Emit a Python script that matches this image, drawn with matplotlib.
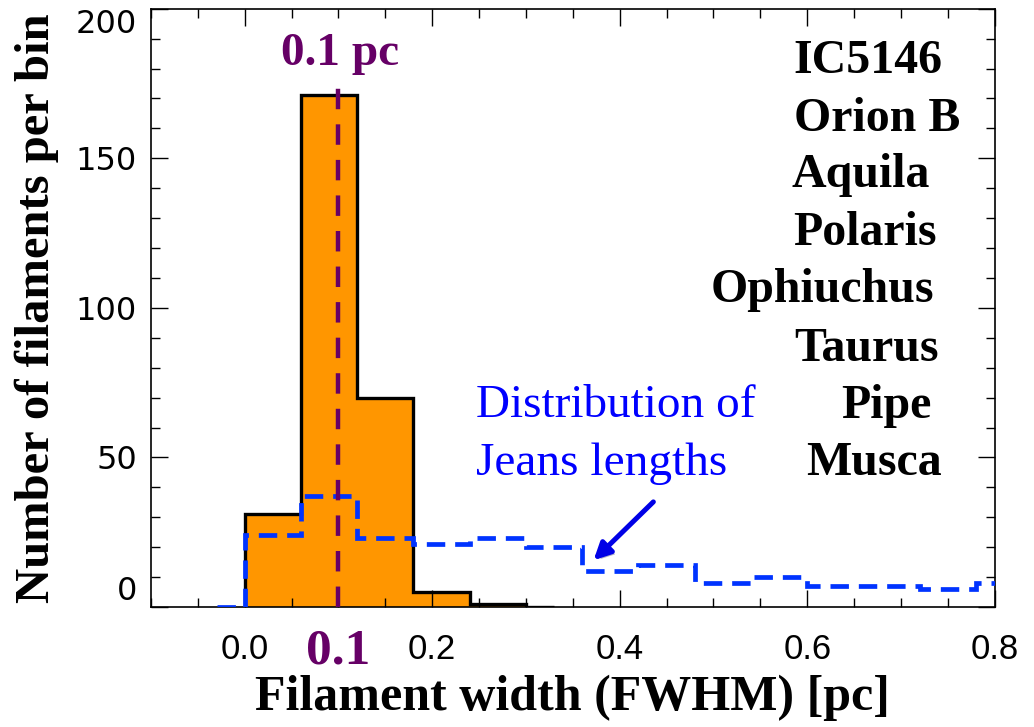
import matplotlib
matplotlib.use('Agg')
import matplotlib.pyplot as plt
from matplotlib.ticker import MultipleLocator
from matplotlib.transforms import blended_transform_factory
import matplotlib.patheffects as pe

# ── Data ──────────────────────────────────────────────────────────────────────
WIDTH_EDGES  = [0.0, 0.06, 0.12, 0.18, 0.24, 0.30, 0.33]
WIDTH_COUNTS = [31, 171, 70, 5, 1, 0]

JEANS_EDGES  = [-0.03, 0.0, 0.06, 0.12, 0.18, 0.24, 0.30, 0.36, 0.42,
                0.48, 0.54, 0.60, 0.66, 0.72, 0.78, 0.80]
JEANS_COUNTS = [0, 24, 37, 23, 21, 23, 20, 12, 14, 8, 10, 7, 7, 6, 8]

FIELDS = ['IC5146', 'Orion B', 'Aquila', 'Polaris',
          'Ophiuchus', 'Taurus', 'Pipe', 'Musca']
# left edge (x) and baseline (y) of each field name, data coords
FIELD_POS = [(0.585, 178.6), (0.586, 159.2), (0.583, 140.5), (0.585, 121.1),
             (0.497, 102.0), (0.586, 82.3), (0.636, 63.2), (0.599, 44.1)]

X_TICKS = [0.0, 0.2, 0.4, 0.6, 0.8]
Y_TICKS = [0, 50, 100, 150, 200]
MARK_W  = 0.1

ORANGE = '#ff9600'
BLUE   = '#0033ff'
PURPLE = '#660066'
SERIF  = 'Liberation Serif'

fig = plt.figure(figsize=(10.34, 7.27), dpi=100)
ax = fig.add_axes([0.146, 0.165, 0.816, 0.823])

# histogram of filament widths
ax.stairs(WIDTH_COUNTS, WIDTH_EDGES, baseline=0, fill=True,
          color=ORANGE, zorder=1)
ax.stairs(WIDTH_COUNTS, WIDTH_EDGES, baseline=0, color='black',
          linewidth=2.4, zorder=2)

# Jeans length distribution
ax.stairs(JEANS_COUNTS, JEANS_EDGES, baseline=None, color=BLUE,
          linewidth=3.4, linestyle=(0, (3.9, 2.1)), zorder=3)

# 0.1 pc marker
ax.plot([MARK_W, MARK_W], [0, 177], color=PURPLE, linewidth=3.2,
        linestyle=(0, (4.6, 3.4)), zorder=4)
ax.text(MARK_W + 0.002, 181.3, '0.1 pc', color=PURPLE, family=SERIF,
        fontweight='bold', fontsize=34, ha='center', va='baseline')

for name, (x, y) in zip(FIELDS, FIELD_POS):
    ax.text(x, y, name, family=SERIF, fontweight='bold', fontsize=34.5,
            ha='left', va='baseline')

ax.text(0.247, 63.5, 'Distribution of', color='blue', family=SERIF,
        fontsize=34, ha='left', va='baseline')
ax.text(0.247, 44.1, 'Jeans lengths', color='blue', family=SERIF,
        fontsize=34, ha='left', va='baseline')
ax.annotate('', xy=(0.370, 15.0), xytext=(0.438, 35.8),
            arrowprops=dict(arrowstyle='-|>,head_length=1.0,head_width=0.5',
                            color='#0000e6', linewidth=3.6,
                            path_effects=[pe.SimplePatchShadow(offset=(2, -2), alpha=0.3),
                                          pe.Normal()]))

# axes
ax.set_xlim(-0.1, 0.8)
ax.set_ylim(0, 200)
ax.set_xticks(X_TICKS)
ax.set_xticklabels([f'{v:.1f}' for v in X_TICKS], family='Liberation Sans',
                   fontsize=25)
ax.xaxis.set_minor_locator(MultipleLocator(0.05))
ax.set_yticks(Y_TICKS)
ax.set_yticklabels([str(v) for v in Y_TICKS], family='DejaVu Sans',
                   fontsize=23)
ax.yaxis.set_minor_locator(MultipleLocator(10))
ylabels = ax.get_yticklabels()
ylabels[0].set_va('bottom')
ylabels[-1].set_va('top')

ax.tick_params(which='both', direction='in', top=True, right=True, width=1.0)
ax.tick_params(which='major', length=12)
ax.tick_params(which='minor', length=6.5)
ax.tick_params(axis='x', which='major', pad=19)
ax.tick_params(axis='y', which='major', pad=10)
for s in ax.spines.values():
    s.set_linewidth(1.2)

trans = blended_transform_factory(ax.transData, ax.transAxes)
ax.text(MARK_W, -0.094, '0.1', transform=trans, color=PURPLE, family=SERIF,
        fontweight='bold', fontsize=37, ha='center', va='baseline')

ax.set_xlabel('Filament width (FWHM) [pc]', family=SERIF, fontweight='bold',
              fontsize=36, labelpad=6)
ax.set_ylabel('Number of filaments per bin', family=SERIF, fontweight='bold',
              fontsize=35, labelpad=12)

fig.savefig('out.png', dpi=100)
plt.close(fig)
